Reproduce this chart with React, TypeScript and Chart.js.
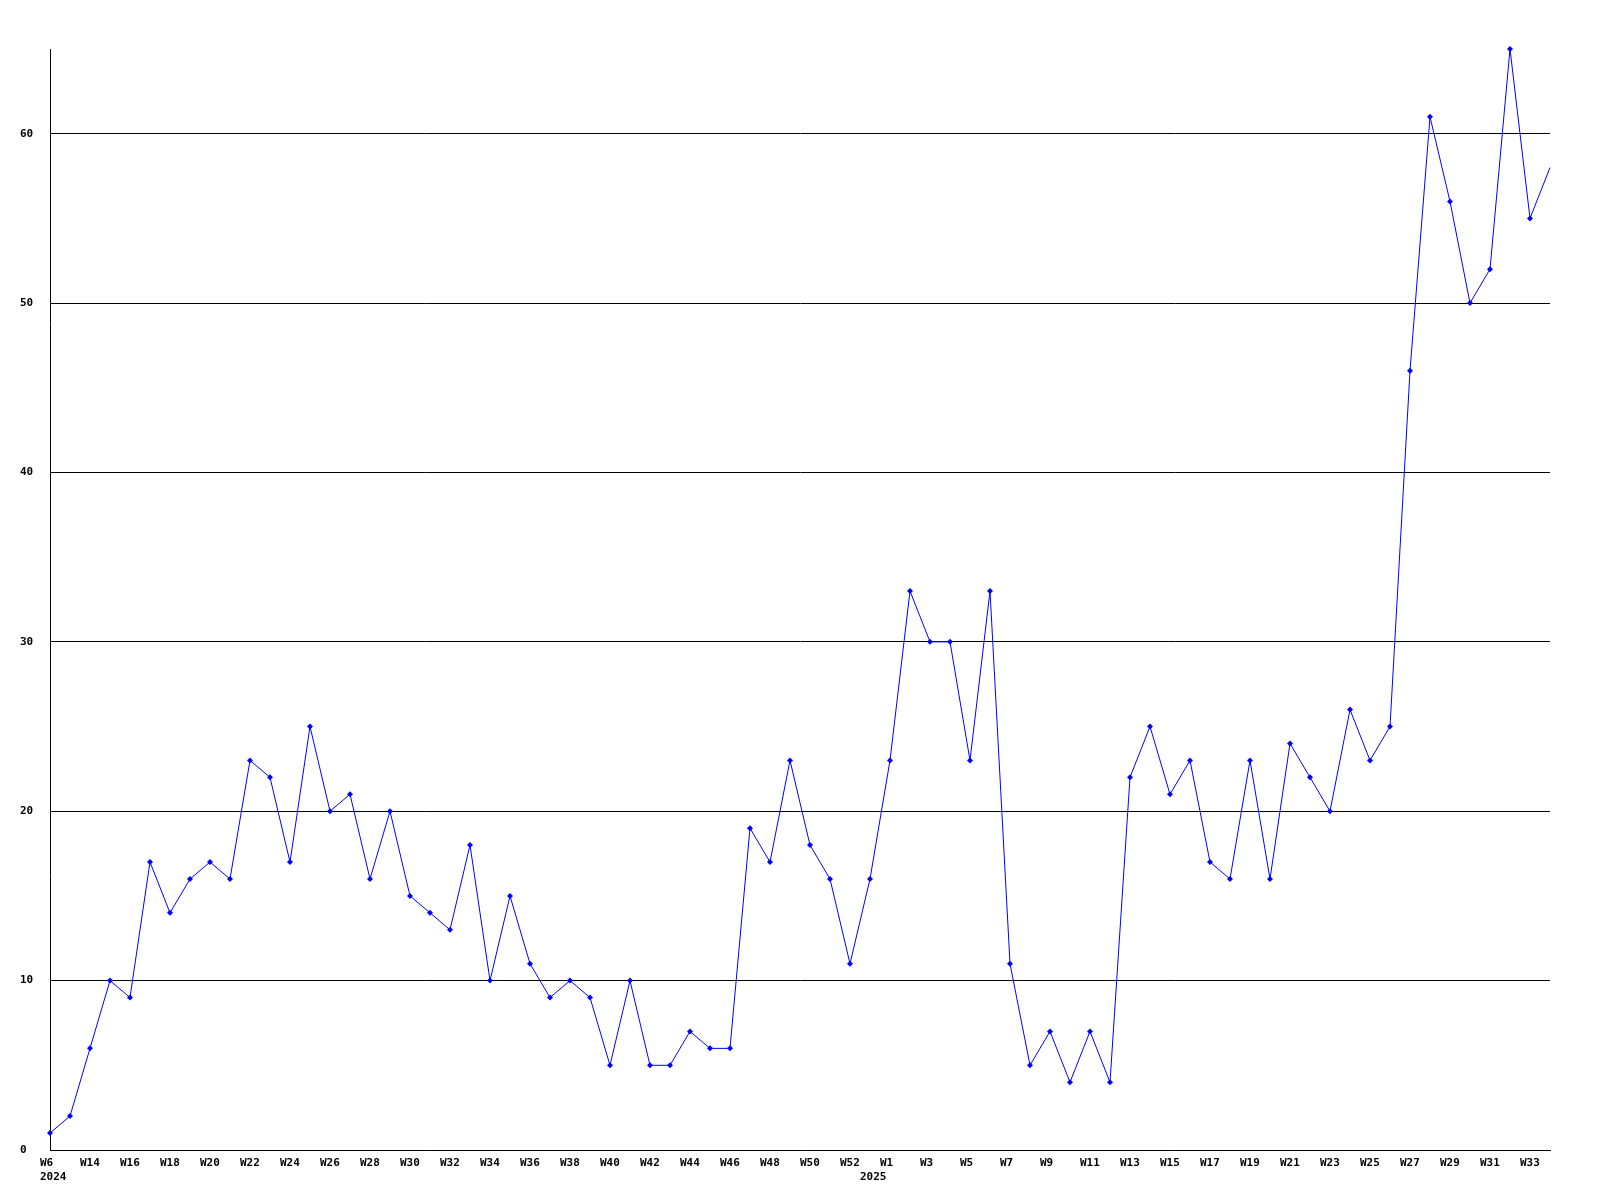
import React, { useEffect, useRef } from "react";
import { Chart, registerables } from "chart.js";

Chart.register(...registerables);

const weekLabels: string[] = [
  "W6", "W13", "W14", "W15", "W16", "W17", "W18", "W19", "W20", "W21",
  "W22", "W23", "W24", "W25", "W26", "W27", "W28", "W29", "W30", "W31",
  "W32", "W33", "W34", "W35", "W36", "W37", "W38", "W39", "W40", "W41",
  "W42", "W43", "W44", "W45", "W46", "W47", "W48", "W49", "W50", "W51",
  "W52", "W53", "W1", "W2", "W3", "W4", "W5", "W6", "W7", "W8",
  "W9", "W10", "W11", "W12", "W13", "W14", "W15", "W16", "W17", "W18",
  "W19", "W20", "W21", "W22", "W23", "W24", "W25", "W26", "W27", "W28",
  "W29", "W30", "W31", "W32", "W33", "W34",
];

// year label shown beneath specific point indexes
const yearMarks: { index: number; year: string }[] = [
  { index: 0, year: "2024" },
  { index: 41, year: "2025" },
];

const counts: number[] = [
  1, 2, 6, 10, 9, 17, 14, 16, 17, 16,
  23, 22, 17, 25, 20, 21, 16, 20, 15, 14,
  13, 18, 10, 15, 11, 9, 10, 9, 5, 10,
  5, 5, 7, 6, 6, 19, 17, 23, 18, 16,
  11, 16, 23, 33, 30, 30, 23, 33, 11, 5,
  7, 4, 7, 4, 22, 25, 21, 23, 17, 16,
  23, 16, 24, 22, 20, 26, 23, 25, 46, 61,
  56, 50, 52, 65, 55, 58,
];

const yMax = 65;
const yStep = 10;

export default function App() {
  const canvasRef = useRef<HTMLCanvasElement | null>(null);

  useEffect(() => {
    const canvas = canvasRef.current;
    if (!canvas) return;
    const font = { family: "'DejaVu Sans Mono', monospace", size: 11, weight: "bold" as const };
    const chart = new Chart(canvas, {
      type: "line",
      data: {
        labels: weekLabels,
        datasets: [
          {
            data: counts,
            borderColor: "#0000ff",
            backgroundColor: "#0000ff",
            borderWidth: 1,
            pointStyle: "rectRot",
            pointRadius: counts.map((_, i) => (i === counts.length - 1 ? 0 : 3)),
            pointBorderWidth: 0,
            pointHoverRadius: 0,
            tension: 0,
            clip: false,
          },
        ],
      },
      options: {
        animation: false,
        responsive: false,
        maintainAspectRatio: false,
        layout: { padding: { left: 20, top: 49, right: 50, bottom: 0 } },
        plugins: { legend: { display: false }, tooltip: { enabled: false } },
        scales: {
          x: {
            type: "category",
            offset: false,
            grid: { display: false, drawTicks: false },
            border: { display: true, color: "#000000", width: 1 },
            afterFit: (scale: any) => {
              scale.height = 50;
            },
            ticks: {
              autoSkip: false,
              maxRotation: 0,
              minRotation: 0,
              align: "start",
              labelOffset: -10,
              padding: 7,
              color: "#000000",
              font,
            callback: (_v: any, index: number) => {
                const ym = yearMarks.find((y) => y.index === index);
                const wk = index % 2 === 0 ? weekLabels[index] : "";
                if (ym) return [wk, ym.year];
                return wk;
              },
            },
          },
          y: {
            type: "linear",
            min: 0,
            max: yMax,
            grid: { display: true, color: "#000000", lineWidth: 1, drawTicks: false },
            border: { display: true, color: "#000000", width: 1 },
            afterFit: (scale: any) => {
              scale.width = 30;
            },
            ticks: {
              stepSize: yStep,
              includeBounds: false,
              crossAlign: "far",
              padding: 0,
              color: "#000000",
              font,
            },
          },
        },
      },
    });
    return () => chart.destroy();
  }, []);

  return (
    <div style={{ position: "absolute", left: 0, top: 0, width: 1600, height: 1200, background: "#ffffff" }}>
      <canvas ref={canvasRef} width={1600} height={1200} style={{ width: 1600, height: 1200, display: "block" }} />
    </div>
  );
}
